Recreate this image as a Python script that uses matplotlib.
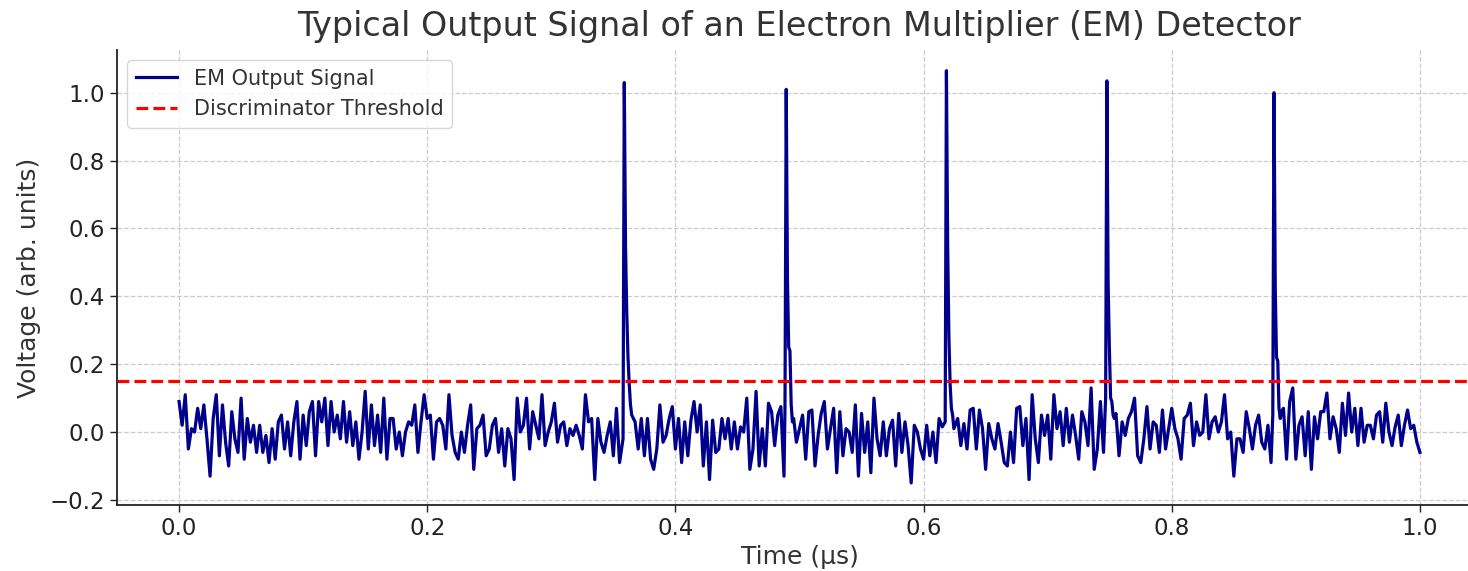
import matplotlib
matplotlib.use("Agg")
import matplotlib.pyplot as plt
import numpy as np

t_step = 0.0025
noise = [
    0.09, 0.02, 0.11, -0.05, 0.01, 0.00, 0.07, 0.01, 0.08, -0.02,
    -0.13, 0.04, 0.11, -0.07, 0.08, -0.03, -0.10, 0.06, -0.02, -0.06,
    0.10, -0.08, 0.04, -0.03, 0.02, -0.06, 0.02, -0.06, -0.01, -0.09,
    0.01, -0.08, 0.03, 0.05, -0.05, 0.03, -0.07, 0.03, 0.09, -0.08,
    0.05, -0.04, 0.06, 0.09, -0.07, 0.09, 0.03, 0.10, -0.04, 0.09,
    0.00, 0.05, -0.02, 0.09, -0.03, 0.06, -0.04, 0.03, -0.08, 0.00,
    0.12, -0.05, 0.08, -0.04, 0.05, -0.06, 0.10, -0.08, 0.04, 0.04,
    -0.05, 0.00, -0.07, 0.00, 0.03, 0.02, 0.08, -0.06, 0.03, 0.11,
    0.04, 0.05, -0.08, 0.03, 0.04, 0.02, -0.05, 0.11, -0.01, -0.06,
    -0.08, 0.00, -0.06, 0.02, 0.08, -0.11, 0.01, 0.02, 0.05, -0.07,
    -0.05, 0.02, 0.04, -0.06, 0.01, -0.10, 0.01, -0.02, -0.14, 0.10,
    0.00, 0.02, 0.10, -0.05, 0.06, 0.02, -0.02, 0.11, -0.04, 0.00,
    0.03, 0.085, -0.03, 0.02, 0.03, -0.04, 0.01, -0.01, 0.02, -0.01,
    -0.05, 0.11, 0.03, 0.04, -0.14, 0.04, -0.03, -0.06, -0.01, 0.03,
    -0.07, 0.07, -0.09, -0.02, 0.00, 0.00, 0.00, 0.03, -0.05, 0.04,
    -0.07, 0.04, -0.08, -0.11, -0.05, 0.08, -0.03, -0.01, 0.04, 0.075,
    -0.05, 0.04, -0.09, 0.03, -0.07, 0.035, 0.09, 0.00, 0.08, -0.10,
    0.03, -0.14, 0.035, -0.06, -0.05, 0.04, -0.02, 0.04, -0.05, 0.03,
    -0.05, 0.015, 0.00, 0.10, -0.11, -0.05, 0.12, -0.10, 0.01, -0.10,
    0.085, 0.06, -0.04, 0.05, 0.075, -0.13, 0.00, 0.00, 0.00, -0.03,
    0.01, 0.05, -0.08, 0.06, 0.065, -0.10, -0.01, 0.055, 0.09, -0.05,
    0.01, 0.07, -0.12, 0.06, -0.07, 0.01, 0.00, -0.06, 0.08, -0.13,
    0.055, -0.06, 0.03, -0.12, 0.10, -0.02, -0.07, 0.03, -0.07, 0.01,
    0.035, -0.10, 0.055, -0.06, 0.03, -0.04, -0.15, 0.02, 0.00, -0.05,
    -0.08, 0.02, -0.07, 0.00, -0.09, 0.04, 0.015, 0.00, 0.00, 0.00,
    0.00, 0.04, -0.04, 0.025, -0.05, 0.065, 0.07, -0.05, 0.065, 0.01,
    -0.11, 0.025, -0.02, -0.05, 0.025, -0.03, -0.09, -0.10, 0.00, -0.09,
    0.07, 0.075, -0.04, 0.04, -0.14, 0.11, -0.02, -0.09, 0.05, -0.01,
    0.05, -0.08, 0.11, 0.01, 0.06, -0.04, 0.07, -0.03, 0.05, -0.01,
    -0.08, 0.06, 0.03, -0.04, 0.13, -0.11, -0.05, 0.09, -0.06, 0.00,
    0.00, 0.00, 0.055, -0.07, 0.03, -0.01, 0.04, 0.06, 0.10, -0.07,
    -0.09, -0.02, 0.075, -0.05, 0.03, 0.02, -0.06, 0.065, -0.05, 0.01,
    0.07, 0.01, -0.02, -0.08, 0.04, 0.05, 0.085, -0.04, 0.03, -0.01,
    0.00, 0.11, -0.02, 0.03, 0.045, 0.00, 0.03, 0.11, -0.02, 0.00,
    -0.13, -0.02, -0.02, -0.06, 0.06, 0.01, -0.05, 0.02, 0.05, -0.03,
    -0.05, 0.02, -0.09, 0.00, 0.00, 0.00, 0.07, -0.08, 0.09, 0.13,
    -0.08, 0.02, 0.045, -0.07, 0.06, -0.11, 0.045, -0.02, 0.06, 0.06,
    0.115, -0.02, 0.045, 0.01, -0.06, 0.085, -0.01, 0.115, 0.00, 0.07,
    -0.04, 0.07, -0.03, 0.02, 0.02, -0.02, 0.05, 0.06, -0.03, 0.085,
    0.00, -0.04, 0.015, 0.05, -0.04, 0.02, 0.065, 0.01, 0.02, -0.03,
    -0.06,
]

# electron pulses: time of peak, sample before, peak, decay samples (0.001 us apart)
pulse_t = [0.3588, 0.4893, 0.6184, 0.7477, 0.8824]
pulse_pre = [-0.02, 0.07, 0.03, 0.10, 0.05]
pulse_peak = [1.03, 1.01, 1.065, 1.035, 1.00]
pulse_tail = [
    [0.55, 0.35, 0.22, 0.14, 0.08, 0.05],
    [0.45, 0.25, 0.24, 0.08, 0.03, 0.04],
    [0.55, 0.28, 0.14, 0.07, 0.05, 0.01],
    [0.44, 0.25, 0.10, 0.09, 0.05, 0.04],
    [0.42, 0.22, 0.21, 0.07, 0.04, 0.06],
]
threshold = 0.15

# build the trace
t_noise = np.arange(len(noise)) * t_step
keep = np.ones(len(noise), dtype=bool)
for tp in pulse_t:
    keep &= ~((t_noise > tp - 0.0015) & (t_noise < tp + 0.0072))
t_all = list(t_noise[keep])
v_all = list(np.array(noise)[keep])
for tp, pre, pk, tail in zip(pulse_t, pulse_pre, pulse_peak, pulse_tail):
    t_all += [tp - 0.001, tp] + [tp + 0.001 * (i + 1) for i in range(len(tail))]
    v_all += [pre, pk] + tail
order = np.argsort(t_all)
t_all = np.array(t_all)[order]
v_all = np.array(v_all)[order]

txt = "#333333"
plt.rcParams['font.family'] = ['DejaVu Sans']

fig = plt.figure(figsize=(14.68, 5.71), dpi=100)
ax = fig.add_axes([117 / 1468, 66 / 571, 1365 / 1468, 455 / 571])

ax.plot(t_all, v_all, color='darkblue', linewidth=2.3, label='EM Output Signal')
ax.axhline(threshold, color='red', linestyle='--', linewidth=2.3, label='Discriminator Threshold')

ax.set_xlim(-0.05, 1.05)
ax.set_ylim(-0.215, 1.126)
ax.set_xticks([0.0, 0.2, 0.4, 0.6, 0.8, 1.0])
ax.set_yticks([-0.2, 0.0, 0.2, 0.4, 0.6, 0.8, 1.0])

ax.set_title("Typical Output Signal of an Electron Multiplier (EM) Detector",
             fontsize=24, color=txt, pad=10)
ax.set_xlabel("Time (μs)", fontsize=18, color=txt, labelpad=4)
ax.set_ylabel("Voltage (arb. units)", fontsize=18, color=txt, labelpad=6)
ax.tick_params(labelsize=16.5, colors='#222222', length=5, width=1)

ax.grid(True, linestyle='--', color='#cccccc', linewidth=0.9)
for s in ['top', 'right']:
    ax.spines[s].set_visible(False)
for s in ['left', 'bottom']:
    ax.spines[s].set_color('#222222')
    ax.spines[s].set_linewidth(1.3)

leg = ax.legend(loc='upper left', fontsize=15, frameon=True, labelcolor=txt,
                borderpad=0.4, handlelength=2.0)
leg.get_frame().set_edgecolor('#cccccc')

fig.savefig("out.png", dpi=100)
